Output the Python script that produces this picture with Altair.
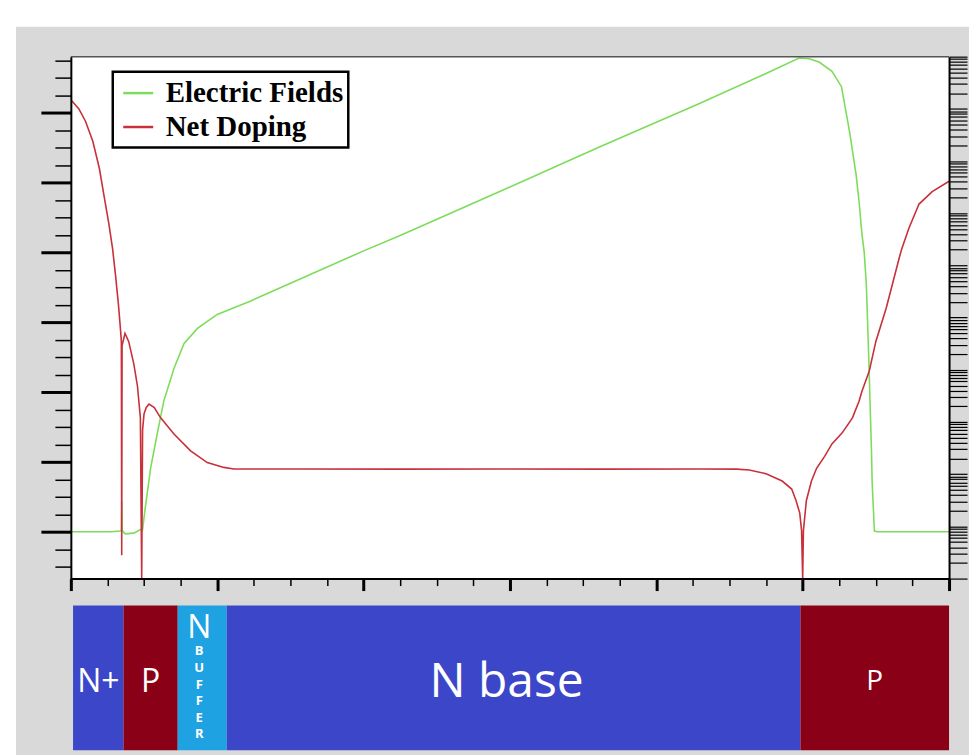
import altair as alt
import pandas as pd

# ---------------- data ----------------
# x position along the device (µm), 0..120
ef_x = [0.0, 5.5, 6.7, 6.9, 6.95, 7.0, 7.4, 8.6, 9.5, 9.8, 10.2, 10.9, 11.8, 12.7, 14.1,
        15.45, 17.3, 20.0, 24.5, 31.4, 40.0, 45.0, 58.6, 72.3, 85.9, 95.0, 99.5,
        100.9, 102.3, 104.0, 105.3, 106.4, 107.3, 107.7, 108.1, 108.4, 108.7, 109.0,
        109.2, 109.4, 109.5, 109.8, 110.2, 120.0]
# electric field (arbitrary units, left axis)
ef_v = [0.0, 0.0, 0.01, 0.02, 0.44, 0.02, -0.03, -0.02, 0.03, 0.03, 0.37, 0.91, 1.40, 1.87, 2.34,
        2.69, 2.91, 3.11, 3.30, 3.62, 4.02, 4.24, 4.87, 5.51, 6.13, 6.56, 6.78,
        6.77, 6.72, 6.59, 6.37, 5.73, 5.11, 4.73, 4.26, 4.01, 3.54, 2.59,
        1.87, 1.16, 0.69, 0.01, 0.0, 0.0]

nd_x = [0.0, 1.1, 2.0, 3.0, 3.9, 4.5, 5.2, 5.7, 6.1, 6.5, 6.8, 6.9, 6.95, 7.0, 7.4, 7.9,
        8.6, 9.1, 9.5, 9.68, 9.8, 10.0, 10.3, 10.68, 11.4, 12.27, 14.09, 16.36, 18.64,
        20.9, 22.27, 31.4, 45.0, 58.6, 72.3, 85.9, 91.0, 92.7, 95.0, 97.2, 98.5, 99.1, 99.6,
        99.85, 100.0, 100.1, 100.5, 101.2, 101.9, 103.0, 104.0, 105.4, 106.8, 107.7, 108.1,
        109.1, 110.0, 111.4, 113.2, 113.5, 114.5, 115.9, 117.7, 120.0]
# |net doping| (cm^-3, right log axis)
nd_v = [1.5e20, 1.0e20, 5.8e19, 2.4e19, 7.2e18, 2.3e18, 6.2e17, 2.1e17, 6.6e16, 1.8e16,
        5.5e15, 3.5e15, 2.8e11, 2.9e15, 5.0e15, 3.5e15,
        1.3e15, 4.9e14, 1.2e14, 1.0e11, 7.0e13, 1.43e14, 1.9e14, 2.2e14, 1.9e14, 1.2e14,
        5.9e13, 2.8e13, 1.67e13,
        1.35e13, 1.26e13, 1.26e13, 1.25e13, 1.26e13, 1.25e13, 1.26e13, 1.25e13, 1.2e13,
        1.02e13, 7.4e12, 5.2e12, 3.1e12, 1.8e12,
        8.3e11, 1.0e11, 8.3e11, 3.1e12, 7.4e12, 1.3e13, 2.2e13, 3.8e13, 6.2e13, 1.2e14,
        2.5e14, 3.9e14,
        9.5e14, 3.5e15, 1.5e16, 1.4e17, 2.0e17, 5.1e17, 1.5e18, 2.6e18, 4.1e18]

series_names = ["Electric Fields", "Net Doping"]
series_colors = ["#7ddc5c", "#c8303a"]

region_names = ["N+", "P", "N buffer", "N base", "P"]
region_start = [0.3, 7.2, 14.6, 21.3, 99.7]
region_end = [7.2, 14.6, 21.3, 99.7, 120.0]
region_color = ["#3c46c8", "#8a0016", "#1fa2e2", "#3c46c8", "#8a0016"]
region_label = ["N+", "P", "N", "N base", "P"]
region_sub = ["", "", "BUFFER", "", ""]

# ---------------- tables ----------------
ef_df = pd.DataFrame({"x": ef_x, "v": ef_v, "series": series_names[0]})
nd_df = pd.DataFrame({"x": nd_x, "n": nd_v, "series": series_names[1]})
reg_df = pd.DataFrame({"idx": list(range(len(region_names))), "region": region_names,
                       "start": region_start, "end": region_end, "fill": region_color,
                       "label": region_label, "sub": region_sub})

W, H, BAR_H = 880, 523, 145
xscale = alt.Scale(domain=[0, 120], nice=False, zero=False)
x_ticks = list(range(0, 121, 5))
e_ticks = [t / 4 for t in range(-2, 28)]
dop_ticks = [k * 10.0 ** n for n in range(11, 21) for k in range(1, 10)] + [1e21]

major_x = "datum.value % 20 === 0"
major_e = "abs(datum.value - round(datum.value)) < 0.01"

x_axis = alt.Axis(values=x_ticks, labels=False, title=None, grid=False,
                  domainColor="black", domainWidth=2, tickColor="black",
                  tickSize={"condition": {"test": major_x, "value": 12}, "value": 7},
                  tickWidth={"condition": {"test": major_x, "value": 3}, "value": 1.5},
                  zindex=1)
e_axis = alt.Axis(orient="left", values=e_ticks, labels=False, title=None, grid=False,
                  domainColor="black", domainWidth=2, tickColor="black",
                  tickSize={"condition": {"test": major_e, "value": 30}, "value": 16},
                  tickWidth={"condition": {"test": major_e, "value": 3}, "value": 1.5},
                  zindex=1)
d_axis = alt.Axis(orient="right", values=dop_ticks, labels=False, title=None, grid=False,
                  domainColor="black", domainWidth=2, tickColor="black",
                  tickSize=18, tickWidth=1.2, zindex=1)

color_enc = alt.Color(
    "series:N",
    scale=alt.Scale(domain=series_names, range=series_colors),
    legend=alt.Legend(title=None, orient="none", legendX=42, legendY=15,
                      symbolType="stroke", symbolSize=900, symbolStrokeWidth=2.5,
                      symbolOffset=4,
                      labelFont="Liberation Serif", labelFontWeight="bold",
                      labelFontSize=29, labelColor="black", labelOffset=11,
                      labelLimit=600,
                      strokeColor="black", fillColor="white", padding=5,
                      rowPadding=2, cornerRadius=0, zindex=2),
)

blank = alt.Data(values=[{}])
gray_bg = alt.Chart(blank).mark_rect(color="#d9d9d9").encode(
    x=alt.value(-55), x2=alt.value(900), y=alt.value(-30), y2=alt.value(700))
white_bg = alt.Chart(blank).mark_rect(color="white").encode(
    x=alt.value(0), x2=alt.value(W), y=alt.value(0), y2=alt.value(H))
top_rule = alt.Chart(blank).mark_rule(color="#555555", strokeWidth=1.5).encode(
    x=alt.value(0), x2=alt.value(W), y=alt.value(0))

green = alt.Chart(ef_df).mark_line(strokeWidth=1.6, clip=True).encode(
    x=alt.X("x:Q", scale=xscale, axis=x_axis),
    y=alt.Y("v:Q", scale=alt.Scale(domain=[-0.671, 6.8], nice=False, zero=False), axis=e_axis),
    color=color_enc,
)
red = alt.Chart(nd_df).mark_line(strokeWidth=1.6, clip=True).encode(
    x=alt.X("x:Q", scale=xscale, axis=x_axis),
    y=alt.Y("n:Q", scale=alt.Scale(type="log", domain=[1e11, 1e21], nice=False), axis=d_axis),
    color=color_enc,
)

top = alt.layer(gray_bg, white_bg, green, red, top_rule).resolve_scale(
    y="independent").properties(width=W, height=H)

# ---------------- device cross-section strip ----------------
bars = alt.Chart(reg_df).mark_rect().encode(
    x=alt.X("start:Q", scale=xscale, axis=None),
    x2="end:Q",
    color=alt.Color("fill:N", scale=None),
)


def label_layer(idxs, size, ybase, dx=0):
    return alt.Chart(reg_df).transform_filter(
        f"indexof({idxs}, datum.idx) >= 0"
    ).transform_calculate(mid="(datum.start + datum.end) / 2").mark_text(
        font="Open Sans", fontSize=size, color="white", baseline="alphabetic", dx=dx
    ).encode(x=alt.X("mid:Q", scale=xscale, axis=None), y=alt.value(ybase), text="label:N")


lab_np = label_layer([0, 1], 32, 87)
lab_n = label_layer([2], 32, 33, dx=-3)
lab_base = label_layer([3], 48, 92, dx=-7)
lab_p = label_layer([4], 28, 85)
lab_buf = alt.Chart(reg_df).transform_filter("datum.idx == 2").transform_calculate(
    mid="(datum.start + datum.end) / 2",
    letters="join(split(datum.sub, ''), ' ')",
).mark_text(font="Open Sans", fontSize=13, fontWeight="bold", color="white",
            baseline="alphabetic", lineBreak=" ", lineHeight=16.6, dx=-3).encode(
    x=alt.X("mid:Q", scale=xscale, axis=None), y=alt.value(50), text="letters:N")

bottom = alt.layer(bars, lab_np, lab_n, lab_base, lab_p, lab_buf).properties(width=W, height=BAR_H)

chart = alt.vconcat(top, bottom, spacing=27, bounds="flush").properties(
    padding={"left": 15, "top": 25, "right": 0, "bottom": 0}
).configure(background="white").configure_view(stroke="transparent").configure_legend(strokeWidth=2.5)

chart.save("out.html", embed_options={"renderer": "svg", "actions": False})
